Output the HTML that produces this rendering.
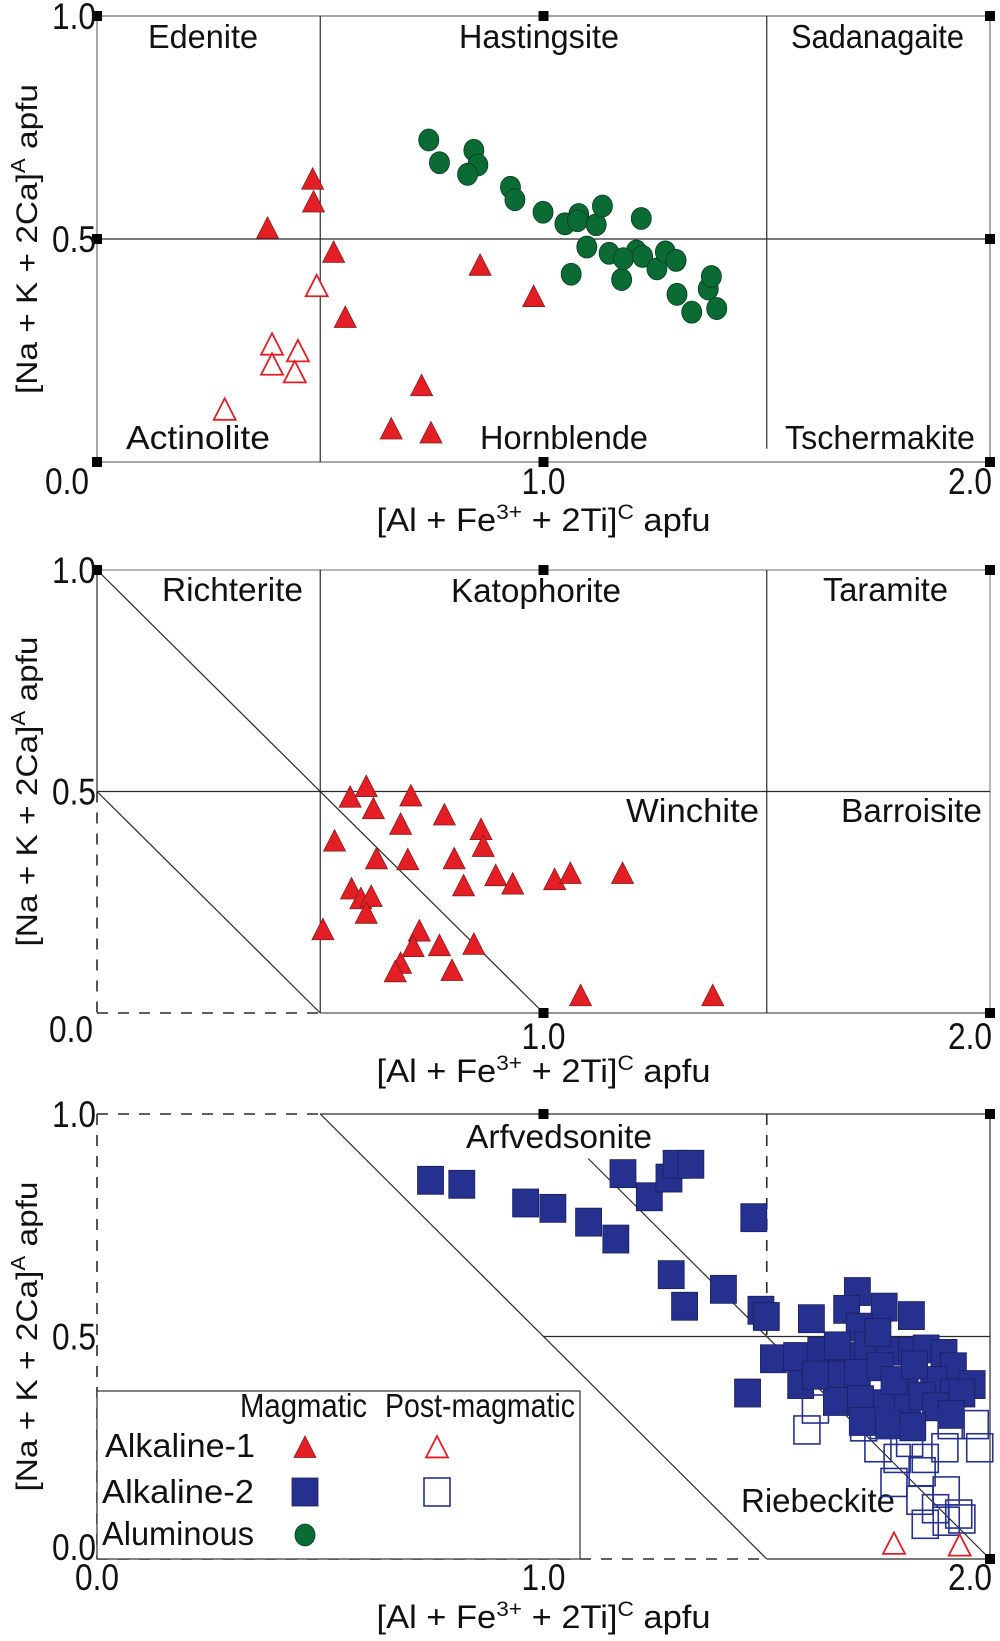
<!DOCTYPE html>
<html><head><meta charset="utf-8"><style>
html,body{margin:0;padding:0;background:#fff;}
svg{display:block;font-family:"Liberation Sans",sans-serif;}
</style></head><body>
<svg id="chart" width="1000" height="1641" viewBox="0 0 1000 1641" xmlns="http://www.w3.org/2000/svg"></svg>
<script>
// ---- Data ----
const p1Aluminous_x=[0.743,0.767,0.844,0.853,0.830,0.926,0.936,0.999,1.048,1.079,1.076,1.118,1.132,1.097,1.147,1.208,1.219,1.175,1.062,1.179,1.222,1.254,1.273,1.297,1.299,1.332,1.369,1.376,1.388];
const p1Aluminous_y=[0.722,0.671,0.699,0.666,0.645,0.616,0.588,0.560,0.534,0.555,0.541,0.532,0.574,0.482,0.468,0.473,0.546,0.409,0.421,0.456,0.461,0.433,0.471,0.452,0.376,0.336,0.388,0.416,0.344];
const p1Alk1Mag_x=[0.382,0.483,0.485,0.530,0.556,0.858,0.978,0.727,0.659,0.748];
const p1Alk1Mag_y=[0.525,0.635,0.584,0.471,0.325,0.442,0.372,0.172,0.075,0.066];
const p1Alk1Post_x=[0.492,0.392,0.450,0.392,0.443,0.286];
const p1Alk1Post_y=[0.395,0.264,0.249,0.219,0.202,0.118];
const p2Alk1Mag_x=[0.567,0.603,0.619,0.703,0.532,0.680,0.778,0.626,0.696,0.860,0.865,0.800,0.893,0.821,0.931,1.025,1.060,1.177,0.570,0.591,0.614,0.603,0.506,0.722,0.708,0.767,0.680,0.668,0.844,0.795,1.083,1.379];
const p2Alk1Mag_y=[0.488,0.512,0.462,0.491,0.389,0.427,0.448,0.349,0.347,0.415,0.377,0.349,0.311,0.288,0.292,0.302,0.316,0.316,0.281,0.259,0.264,0.226,0.189,0.186,0.151,0.153,0.113,0.094,0.156,0.097,0.040,0.040];
const p3Alk2Mag_x=[0.747,0.817,0.960,1.021,1.101,1.162,1.178,1.237,1.281,1.297,1.330,1.471,1.286,1.316,1.403,1.487,1.499,1.600,1.703,1.679,1.763,1.824,1.707,1.515,1.457,1.567,1.621,1.677,1.726,1.773,1.824,1.857,1.897,1.918,1.960,1.576,1.651,1.703,1.754,1.810,1.874,1.918,1.656,1.710,1.768,1.815,1.848,1.878,1.937,1.714,1.773,1.827,1.913,1.785,1.609,1.831,1.658,1.749];
const p3Alk2Mag_y=[0.851,0.842,0.800,0.788,0.757,0.719,0.866,0.814,0.856,0.887,0.887,0.767,0.639,0.568,0.606,0.559,0.545,0.540,0.601,0.561,0.566,0.547,0.521,0.450,0.373,0.455,0.467,0.455,0.479,0.467,0.467,0.472,0.462,0.432,0.392,0.392,0.413,0.417,0.432,0.392,0.401,0.373,0.354,0.358,0.349,0.349,0.366,0.342,0.373,0.309,0.302,0.297,0.325,0.401,0.413,0.436,0.479,0.509];
const p3Alk2Post_x=[1.590,1.609,1.717,1.761,1.749,1.792,1.820,1.855,1.899,1.967,1.977,1.913,1.785,1.848,1.902,1.843,1.878,1.930,1.855,1.902,1.937];
const p3Alk2Post_y=[0.290,0.337,0.297,0.302,0.250,0.226,0.262,0.226,0.250,0.302,0.250,0.302,0.172,0.196,0.153,0.132,0.113,0.101,0.078,0.085,0.090];
const p3Alk1Post_x=[1.785,1.932];
const p3Alk1Post_y=[0.035,0.031];
const xTicks=["0.0","1.0","2.0"];
const yTicks=["0.0","0.5","1.0"];

const RED="#e31e24",GREEN="#0b6b35",BLUE="#26318f";
const svg=document.getElementById('chart');
const NS="http://www.w3.org/2000/svg";
function mk(tag,attrs,parent){const e=document.createElementNS(NS,tag);for(const k in attrs)e.setAttribute(k,attrs[k]);(parent||svg).appendChild(e);return e;}
const X0=97,X2=990;
function sx(v){return X0+v*(X2-X0)/2;}
function makeY(top,bot){return v=>bot-v*(bot-top);}
function line(g,x1,y1,x2,y2,dash,col){return mk('line',{x1:x1,y1:y1,x2:x2,y2:y2,stroke:col||'#2a2a2a','stroke-width':dash?1.6:1.2,'stroke-dasharray':dash?'11,10':'none'},g);}
function txt(g,s,x,y,size,len,anchor){const t=mk('text',{x:x,y:y,'font-size':size,fill:'#111','text-anchor':anchor||'start'},g);if(len){t.setAttribute('textLength',len);t.setAttribute('lengthAdjust','spacingAndGlyphs');}t.textContent=s;return t;}
function knob(g,x,y){mk('rect',{x:x-5,y:y-5,width:10,height:10,fill:'#000'},g);}
function tri(g,x,y,fill){const s=11;return mk('polygon',{points:`${x},${y-s} ${x-s},${y+s*0.95} ${x+s},${y+s*0.95}`,fill:fill?RED:'#fff',stroke:fill?'#8a1a1a':RED,'stroke-width':fill?0.8:1.8},g);}
function sq(g,x,y,fill){return mk('rect',{x:x-13,y:y-14,width:26,height:28,fill:fill?BLUE:'none',stroke:fill?'#1a1f5c':BLUE,'stroke-width':fill?0.8:1.6},g);}
function circ(g,x,y){return mk('ellipse',{cx:x,cy:y,rx:10,ry:11,fill:GREEN,stroke:'#063a1d','stroke-width':0.8},g);}

function axes(g,sy,topY,botY,xtY,titleY,yTickX,x0off,y0shift,skipY0,x0dy){
  [0,0.5,1].forEach((v,i)=>{if(i==0&&skipY0)return;const t=txt(g,yTicks[i],yTickX,sy(v)+13-(i==0?y0shift:0),37,44,'end');});
  [0,1,2].forEach((v,i)=>{const t=txt(g,xTicks[i],sx(v)+(i==2?-20:i==0?x0off:0),xtY-(i==0?x0dy:0),37,44,'middle');});
  const xt=mk('text',{x:sx(1),y:titleY,'font-size':32,'text-anchor':'middle',fill:'#111',textLength:334,lengthAdjust:'spacingAndGlyphs'},g);
  
  xt.innerHTML='[Al + Fe<tspan dy="-12" font-size="21">3+</tspan><tspan dy="12"> + 2Ti]</tspan><tspan dy="-12" font-size="21">C</tspan><tspan dy="12"> apfu</tspan>';
  const cy=(topY+botY)/2;
  const yt=mk('text',{x:0,y:0,'font-size':30,'text-anchor':'middle',fill:'#111',transform:`translate(37,${cy}) rotate(-90)`,textLength:310,lengthAdjust:'spacingAndGlyphs'},g);
  
  yt.innerHTML='[Na + K + 2Ca]<tspan dy="-12" font-size="20">A</tspan><tspan dy="12"> apfu</tspan>';
}
function label(g,s,x,y,len,name){const t=txt(g,s,x,y,33,len);}

// ---- Panel 1 ----
{const g=mk('g',{});
const T=16,B=462,sy=makeY(T,B);
mk('rect',{x:sx(0),y:T,width:sx(2)-sx(0),height:B-T,fill:'none',stroke:'#8a8a8a','stroke-width':1.5},g);
line(g,sx(0.5),sy(1),sx(0.5),sy(0));line(g,sx(1.5),sy(1),sx(1.5),sy(0.03));line(g,sx(0),sy(0.5),sx(2),sy(0.5));
[[0,1],[1,1],[2,1],[0,0.5],[2,0.5],[0,0],[1,0],[2,0]].forEach(p=>knob(g,sx(p[0]),sy(p[1])));
label(g,'Edenite',148,48,110,'edenite-label');label(g,'Hastingsite',459,48,160,'hastingsite-label');label(g,'Sadanagaite',791,48,173,'sadanagaite-label');
label(g,'Actinolite',126,449,144,'actinolite-label');label(g,'Hornblende',480,449,168,'hornblende-label');label(g,'Tschermakite',785,449,190,'tschermakite-label');
axes(g,sy,T,B,494,531,96,-30,0,true,0);
p1Aluminous_x.forEach((v,i)=>{const e=circ(g,sx(v),sy(p1Aluminous_y[i]));});
p1Alk1Mag_x.forEach((v,i)=>{const e=tri(g,sx(v),sy(p1Alk1Mag_y[i]),true);});
p1Alk1Post_x.forEach((v,i)=>{const e=tri(g,sx(v),sy(p1Alk1Post_y[i]),false);});
}
// ---- Panel 2 ----
{const g=mk('g',{});
const T=570,B=1013,sy=makeY(T,B);
line(g,sx(0),sy(1),sx(2),sy(1),false,'#8a8a8a');line(g,sx(2),sy(1),sx(2),sy(0),false,'#8a8a8a');
line(g,sx(0),sy(1),sx(0),sy(0.5));line(g,sx(0),sy(0.5),sx(0),sy(0),true);
line(g,sx(0),sy(0),sx(0.5),sy(0),true);line(g,sx(0.5),sy(0),sx(2),sy(0),false,'#555');
line(g,sx(0.5),sy(1),sx(0.5),sy(0));line(g,sx(1.5),sy(1),sx(1.5),sy(0));line(g,sx(0),sy(0.5),sx(2),sy(0.5));
line(g,sx(0),sy(1),sx(1),sy(0));line(g,sx(0),sy(0.5),sx(0.5),sy(0));
[[0,1],[1,1],[2,1],[1,0],[2,0]].forEach(p=>knob(g,sx(p[0]),sy(p[1])));
label(g,'Richterite',162,601,141,'richterite-label');label(g,'Katophorite',451,602,170,'katophorite-label');label(g,'Taramite',823,601,125,'taramite-label');
label(g,'Winchite',626,822,133,'winchite-label');label(g,'Barroisite',841,822,141,'barroisite-label');
axes(g,sy,T,B,1049,1082,96,-26,0,true,7);
p2Alk1Mag_x.forEach((v,i)=>{const e=tri(g,sx(v),sy(p2Alk1Mag_y[i]),true);});
}
// ---- Panel 3 ----
{const g=mk('g',{});
const T=1114,B=1559,sy=makeY(T,B);
line(g,sx(0),sy(1),sx(0.5),sy(1),true);line(g,sx(0.5),sy(1),sx(2),sy(1));line(g,sx(2),sy(1),sx(2),sy(0));
line(g,sx(0),sy(1),sx(0),sy(0),true);line(g,sx(0),sy(0),sx(1.5),sy(0),true);line(g,sx(1.5),sy(0),sx(2),sy(0));
line(g,sx(1.5),sy(1),sx(1.5),sy(0.5),true);line(g,sx(1),sy(0.5),sx(2),sy(0.5));
line(g,sx(0.5),sy(1),sx(1.5),sy(0));line(g,sx(1.1),sy(0.9),sx(2),sy(0));
[[1,1],[2,1],[2,0]].forEach(p=>knob(g,sx(p[0]),sy(p[1])));
label(g,'Arfvedsonite',466,1148,186,'arfvedsonite-label');label(g,'Riebeckite',741,1512,154,'riebeckite-label');
axes(g,sy,T,B,1590,1628,96,0,12,false,0);
p3Alk2Mag_x.forEach((v,i)=>{const e=sq(g,sx(v),sy(p3Alk2Mag_y[i]),true);});
p3Alk2Post_x.forEach((v,i)=>{const e=sq(g,sx(v),sy(p3Alk2Post_y[i]),false);});
p3Alk1Post_x.forEach((v,i)=>{const e=tri(g,sx(v),sy(p3Alk1Post_y[i]),false);});
// legend
const L=mk('g',{});
mk('rect',{x:97,y:1391,width:483,height:168,fill:'#fff',stroke:'#333','stroke-width':1.2},L);
label(L,'Magmatic',240,1417,127,'legend-magmatic-header');label(L,'Post-magmatic',385,1417,190,'legend-postmagmatic-header');
label(L,'Alkaline-1',105,1457,150,'legend-alkaline1-label');label(L,'Alkaline-2',102,1503,152,'legend-alkaline2-label');label(L,'Aluminous',102,1545,152,'legend-aluminous-label');
let e;e=tri(L,305,1447,true);
e=tri(L,437,1447,false);
e=sq(L,305,1492,true);
e=sq(L,437,1492,false);
e=circ(L,305,1535);
}
</script>
</body></html>
